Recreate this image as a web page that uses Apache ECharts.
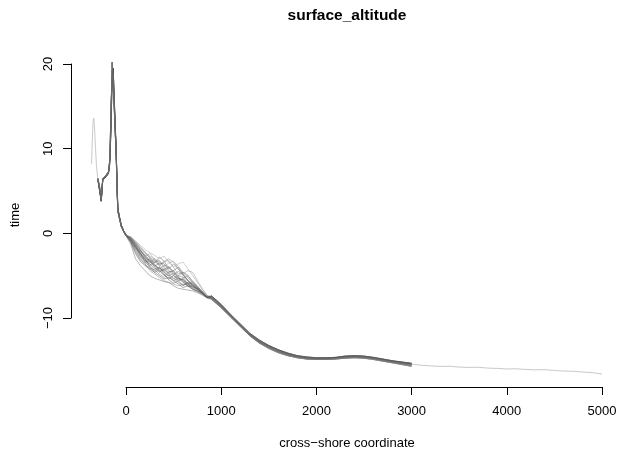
<!DOCTYPE html>
<html><head><meta charset="utf-8">
<script src="https://cdn.jsdelivr.net/npm/echarts@6/dist/echarts.min.js"></script>
<style>html,body{margin:0;padding:0;background:#fff}#c{width:620px;height:452px}</style>
</head><body><div id="c"></div>
<script>
// ---- text ----
const chartTitle = 'surface_altitude';
const xLabel = 'cross\u2212shore coordinate';
const yLabel = 'time';
const xTicks = [0, 1000, 2000, 3000, 4000, 5000];
const yTicks = [-10, 0, 10, 20];

// ---- shared cross-shore positions ----
const headX = [-295,-278,-260,-244,-225,-208,-184,-173,-166,-158,-145,-135,-125,-115,-103,-95,-86,-70,-50,-25,0];
const midX  = [50,100,150,200,250,300,350,400,450,500,550,600,650,700,750,800,850];
const tailX = [900,1000,1100,1200,1300,1400,1500,1600,1700,1800,1900,2000,2100,2200,2300,2400,2500,2600,2700,2800,2900,3000];
const farX  = [3100,3200,3300,3400,3500,3600,3700,3800,3900,4000,4100,4200,4300,4400,4500,4600,4700,4800,4900,5000];

// ---- profile pieces ----
const headA = [6.4,5.3,3.9,6.4,6.6,6.8,7.2,8.2,9.8,13.3,20.2,18.0,15.2,12.4,9.2,5.6,2.6,1.8,0.8,0.2,-0.3];
const headB = [6.5,5.5,4.2,6.5,6.7,6.9,7.3,8.4,10.5,14.5,19.2,18.6,15.8,12.8,9.6,6.0,2.8,1.9,0.9,0.3,-0.2];
const headC = [6.3,5.1,3.8,6.3,6.5,6.7,7.1,8.0,9.4,12.6,18.4,19.5,16.4,13.2,9.9,6.3,3.0,2.0,1.0,0.3,-0.2];

const mid01 = [-1.0,-2.0,-3.0,-3.6,-4.4,-4.8,-5.2,-5.6,-5.8,-6.0,-6.2,-6.0,-6.1,-6.3,-6.6,-7.0,-7.5];
const mid02 = [-0.8,-1.5,-2.6,-3.2,-3.6,-4.2,-4.0,-4.8,-5.4,-5.0,-5.6,-6.2,-5.8,-6.0,-6.5,-7.1,-7.5];
const mid03 = [-0.6,-1.2,-1.9,-2.8,-3.4,-3.0,-3.6,-4.4,-4.0,-4.6,-5.3,-5.8,-6.3,-6.2,-6.5,-7.0,-7.6];
const mid04 = [-0.5,-1.0,-1.6,-2.2,-2.9,-3.5,-2.8,-3.3,-4.2,-3.6,-4.2,-5.0,-5.6,-6.0,-6.4,-6.9,-7.4];
const mid05 = [-0.7,-1.4,-2.2,-2.7,-2.4,-3.1,-3.8,-3.4,-3.2,-4.0,-4.8,-4.6,-5.2,-5.9,-6.3,-6.8,-7.5];
const mid06 = [-0.9,-1.8,-2.4,-3.0,-3.8,-3.4,-3.2,-4.0,-4.6,-4.4,-4.0,-4.8,-5.6,-6.1,-6.6,-7.0,-7.6];
const mid07 = [-0.4,-0.9,-1.4,-1.9,-2.3,-2.6,-3.0,-2.7,-3.4,-4.0,-3.6,-3.4,-4.2,-5.0,-5.8,-6.6,-7.3];
const mid08 = [-0.6,-1.3,-2.0,-2.8,-3.2,-4.0,-4.6,-4.2,-4.8,-5.4,-5.0,-5.2,-5.9,-6.4,-6.5,-6.9,-7.5];
const mid09 = [-1.1,-2.4,-3.3,-3.8,-4.2,-4.6,-5.0,-5.4,-5.2,-5.6,-6.0,-6.4,-6.2,-6.6,-6.9,-7.2,-7.6];
const mid10 = [-0.5,-1.1,-1.8,-2.4,-2.8,-3.3,-3.7,-3.3,-3.0,-3.4,-4.2,-4.8,-4.4,-4.6,-5.6,-6.5,-7.3];
const mid11 = [-0.7,-1.6,-2.7,-3.3,-3.0,-3.6,-4.4,-5.0,-4.6,-4.4,-5.2,-5.8,-6.0,-5.7,-6.2,-6.9,-7.5];
const mid12 = [-0.8,-1.7,-2.3,-3.4,-4.0,-4.6,-4.3,-4.9,-5.5,-5.9,-5.6,-5.4,-6.0,-6.5,-6.8,-7.1,-7.6];
const mid13 = [-1.3,-3.0,-3.8,-4.4,-5.0,-5.3,-5.5,-5.7,-5.8,-6.2,-6.5,-6.6,-6.7,-6.8,-7.0,-7.3,-7.6];
const mid14 = [-0.6,-1.4,-2.5,-3.0,-3.5,-3.2,-3.9,-4.6,-5.0,-4.7,-5.1,-5.7,-6.2,-6.4,-6.7,-7.1,-7.6];
const mid15 = [-0.5,-1.2,-2.0,-2.6,-3.3,-3.9,-3.5,-3.6,-4.4,-4.9,-4.5,-4.9,-5.5,-6.2,-6.6,-7.0,-7.5];
const mid16 = [-0.9,-1.9,-2.8,-3.5,-3.2,-3.8,-4.5,-4.2,-4.0,-4.8,-5.5,-5.3,-5.0,-5.6,-6.3,-6.9,-7.5];
const mid17 = [-0.4,-1.0,-1.7,-2.3,-2.7,-3.0,-3.4,-3.9,-3.5,-3.3,-3.9,-4.6,-5.2,-5.8,-6.4,-6.9,-7.4];
const mid18 = [-0.7,-1.5,-2.3,-3.1,-3.9,-4.4,-4.1,-4.5,-5.1,-5.6,-5.3,-5.5,-6.2,-6.6,-6.8,-7.1,-7.6];
const mid19 = [-0.8,-1.6,-2.1,-2.6,-3.1,-3.7,-4.2,-3.8,-3.9,-4.5,-5.0,-4.6,-4.9,-5.8,-6.4,-6.9,-7.5];
const mid20 = [-1.0,-2.2,-3.1,-3.7,-4.1,-4.3,-4.8,-5.2,-4.9,-5.3,-5.8,-6.1,-5.9,-6.2,-6.6,-7.0,-7.5];

const tailA = [-7.6,-8.6,-9.8,-10.9,-12.0,-12.8,-13.4,-13.9,-14.3,-14.6,-14.75,-14.8,-14.8,-14.75,-14.6,-14.55,-14.6,-14.75,-14.95,-15.15,-15.3,-15.45];
const tailB = [-7.8,-8.8,-9.9,-11.0,-12.1,-12.95,-13.6,-14.1,-14.45,-14.7,-14.85,-14.9,-14.9,-14.85,-14.75,-14.7,-14.75,-14.9,-15.1,-15.3,-15.5,-15.7];
const tailC = [-7.4,-8.4,-9.6,-10.7,-11.8,-12.6,-13.25,-13.75,-14.15,-14.45,-14.6,-14.7,-14.7,-14.65,-14.5,-14.45,-14.5,-14.65,-14.85,-15.05,-15.2,-15.35];
const tailD = [-7.7,-8.7,-9.85,-10.95,-12.05,-12.9,-13.5,-14.0,-14.4,-14.65,-14.8,-14.85,-14.85,-14.8,-14.7,-14.62,-14.68,-14.82,-15.02,-15.22,-15.4,-15.58];
const tailE = [-7.5,-8.5,-9.7,-10.8,-11.9,-12.7,-13.3,-13.8,-14.2,-14.5,-14.68,-14.75,-14.74,-14.7,-14.55,-14.5,-14.55,-14.7,-14.9,-15.1,-15.25,-15.4];

// initial (light) profile, the only one spanning the full domain
const initHeadX = [-362,-354,-346,-338,-330,-320,-310,-299];
const initHeadY = [8.2,11.0,13.2,13.6,12.4,10.0,8.0,6.7];
const initMid   = [-0.7,-1.5,-2.3,-2.9,-3.3,-3.8,-4.1,-4.4,-4.7,-5.0,-5.3,-5.6,-5.9,-6.2,-6.6,-7.0,-7.5];
const farY = [-15.58,-15.66,-15.72,-15.70,-15.80,-15.84,-15.82,-15.92,-15.95,-16.02,-16.00,-16.08,-16.12,-16.10,-16.20,-16.26,-16.30,-16.38,-16.45,-16.62];

const heads = [headA, headB, headC];
const tails = [tailA, tailB, tailC, tailD, tailE];
const mids = [mid01,mid02,mid03,mid04,mid05,mid06,mid07,mid08,mid09,mid10,
              mid11,mid12,mid13,mid14,mid15,mid16,mid17,mid18,mid19,mid20];
const lineColors = ['#7a7a7a','#444444','#6c6c6c','#555555','#8a8a8a','#4c4c4c','#969696','#5e5e5e','#3e3e3e','#7e7e7e',
                    '#666666','#484848','#5a5a5a','#888888','#515151','#6e6e6e','#909090','#464646','#767676','#626262'];

function pairs(xs, ys) { return xs.map((x, k) => [x, ys[k]]); }

const series = [];
series.push({
  type: 'line', showSymbol: false, silent: true, z: 1,
  lineStyle: { width: 1, color: '#c9c9c9' },
  data: [].concat(pairs(initHeadX, initHeadY), pairs(headX.slice(1), headA.slice(1)),
                  pairs(midX, initMid), pairs(tailX, tailA), pairs(farX, farY))
});
mids.forEach((m, i) => {
  series.push({
    type: 'line', showSymbol: false, silent: true, z: 2,
    lineStyle: { width: 1, color: lineColors[i], opacity: 0.45 },
    data: [].concat(pairs(headX, heads[i % 3]), pairs(midX, m), pairs(tailX, tails[i % 5]))
  });
});

// axis geometry: ticks 0..5000 span 126..602 px, -10..20 span 318..64 px
const pxPerX = 476 / 5000, pxPerY = 254 / 30;
const dataXMin = -600, dataXMax = 5100, dataYMin = -18, dataYMax = 22;
const g0left = 126 + dataXMin * pxPerX;
const g0width = (dataXMax - dataXMin) * pxPerX;
const g0top = 64 - (dataYMax - 20) * pxPerY;
const g0height = (dataYMax - dataYMin) * pxPerY;

const font = 'Liberation Sans, Arial, Helvetica, sans-serif';
const chart = echarts.init(document.getElementById('c'), null, { renderer: 'canvas' });
chart.setOption({
  animation: false,
  backgroundColor: '#fff',
  grid: [
    { left: g0left, top: g0top, width: g0width, height: g0height, containLabel: false },
    { left: 126, right: 18, top: 64, bottom: 134, containLabel: false }
  ],
  xAxis: [
    { type: 'value', gridIndex: 0, min: dataXMin, max: dataXMax, show: false },
    {
      type: 'value', gridIndex: 1, min: xTicks[0], max: xTicks[xTicks.length - 1], interval: 1000,
      offset: 69,
      axisLine: { show: true, onZero: false, lineStyle: { color: '#000', width: 1 } },
      axisTick: { show: true, length: 8, lineStyle: { color: '#000' } },
      axisLabel: { margin: 18, fontSize: 13, color: '#000', fontFamily: font,
                   showMinLabel: true, showMaxLabel: true, formatter: v => String(v) },
      splitLine: { show: false }
    }
  ],
  yAxis: [
    { type: 'value', gridIndex: 0, min: dataYMin, max: dataYMax, show: false },
    {
      type: 'value', gridIndex: 1, min: yTicks[0], max: yTicks[yTicks.length - 1], interval: 10,
      offset: 55,
      axisLine: { show: true, onZero: false, lineStyle: { color: '#000', width: 1 } },
      axisTick: { show: true, length: 8, lineStyle: { color: '#000' } },
      axisLabel: { margin: 16, rotate: 90, fontSize: 13, color: '#000', fontFamily: font,
                   formatter: v => String(v).replace('-', '\u2212') },
      splitLine: { show: false }
    }
  ],
  graphic: [
    { type: 'text', silent: true,
      style: { text: chartTitle, x: 347, y: 16, textAlign: 'center', textVerticalAlign: 'middle',
               font: 'bold 15.5px ' + font, fill: '#000' } },
    { type: 'text', silent: true,
      style: { text: xLabel, x: 347, y: 443, textAlign: 'center', textVerticalAlign: 'middle',
               font: '13px ' + font, fill: '#000' } },
    { type: 'text', silent: true, x: 15, y: 215, rotation: Math.PI / 2,
      style: { text: yLabel, x: 0, y: 0, textAlign: 'center', textVerticalAlign: 'middle',
               font: '13px ' + font, fill: '#000' } }
  ],
  series: series.map(s => Object.assign(s, { xAxisIndex: 0, yAxisIndex: 0 }))
});
</script>
</body></html>
